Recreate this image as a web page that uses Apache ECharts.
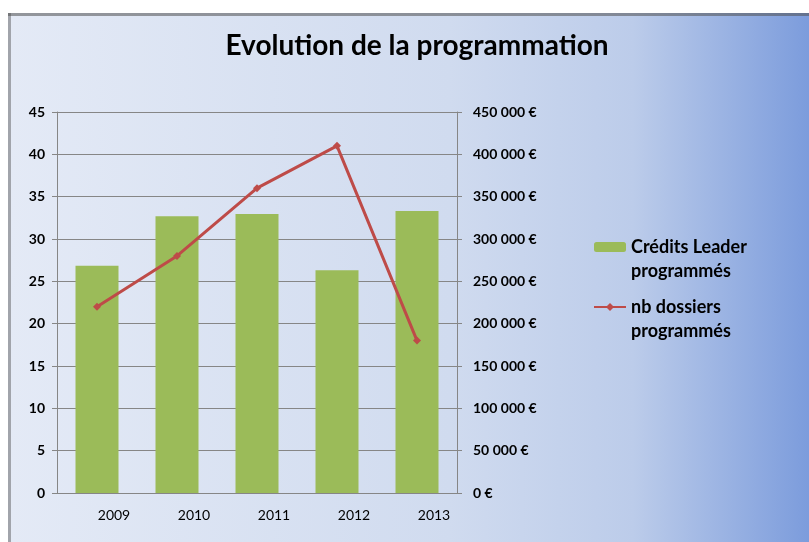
<!DOCTYPE html>
<html>
<head>
<meta charset="utf-8">
<script src="https://cdn.jsdelivr.net/npm/echarts@6/dist/echarts.min.js"></script>
<style>
  html, body { margin: 0; padding: 0; background: #fff; }
  #chart { width: 809px; height: 542px; }
</style>
</head>
<body>
<div id="chart"></div>
<script>
// données
var years = ['2009', '2010', '2011', '2012', '2013'];
var credits = [268500, 327000, 329500, 263000, 333000];
var dossiers = [22, 28, 36, 41, 18];

function euro(v) {
  return String(v).replace(/\B(?=(\d{3})+(?!\d))/g, ' ') + ' €';
}

var myChart = echarts.init(document.getElementById('chart'));

var option = {
  backgroundColor: '#fff',
  textStyle: { fontFamily: 'Lato' },
  graphic: [
    {
      type: 'rect', z: -10,
      shape: { x: 8, y: 13, width: 801, height: 529 },
      style: {
        fill: new echarts.graphic.LinearGradient(0, 0, 1, 0, [
          { offset: 0, color: '#E4EAF6' },
          { offset: 0.55, color: '#D0DBEF' },
          { offset: 0.78, color: '#BCCCEA' },
          { offset: 1, color: '#7C9CDC' }
        ])
      }
    },
    { type: 'rect', z: -9, shape: { x: 8, y: 13, width: 801, height: 3 }, style: { fill: 'rgba(80,80,80,0.55)' } },
    { type: 'rect', z: -9, shape: { x: 8, y: 13, width: 3, height: 529 }, style: { fill: 'rgba(80,80,80,0.45)' } }
  ],
  title: {
    text: 'Evolution de la programmation',
    left: 412, top: 27, textAlign: 'center',
    textStyle: { fontSize: 28, fontWeight: 'bold', color: '#000', fontFamily: 'Lato' }
  },
  legend: {
    orient: 'vertical',
    left: 593, top: 211,
    padding: 0,
    itemGap: -12,
    itemWidth: 32, itemHeight: 10,
    formatter: function (name) { return ' \n' + name; },
    textStyle: {
      fontSize: 18, fontWeight: 'bold', color: '#000', lineHeight: 24
    },
    data: ['Crédits Leader\nprogrammés', 'nb dossiers\nprogrammés']
  },
  grid: { left: 57, right: 352, top: 112, bottom: 49 },
  xAxis: {
    type: 'category',
    data: years,
    axisLine: { lineStyle: { color: '#868686' } },
    axisTick: { show: false },
    axisLabel: { color: '#000', fontSize: 14, margin: 15, padding: [0, 0, 0, 34] }
  },
  yAxis: [
    {
      type: 'value', min: 0, max: 45, interval: 5,
      axisLine: { show: true, lineStyle: { color: '#868686' } },
      axisTick: { show: true, length: 5, lineStyle: { color: '#868686' } },
      splitLine: { lineStyle: { color: '#868686' } },
      axisLabel: { color: '#000', fontSize: 14, fontWeight: 'bold', margin: 12 }
    },
    {
      type: 'value', min: 0, max: 450000, interval: 50000,
      axisLine: { show: true, lineStyle: { color: '#868686' } },
      axisTick: { show: true, length: 5, lineStyle: { color: '#868686' } },
      splitLine: { show: false },
      axisLabel: { color: '#000', fontSize: 14, fontWeight: 'bold', margin: 16, formatter: euro }
    }
  ],
  series: [
    {
      name: 'Crédits Leader\nprogrammés',
      type: 'bar',
      yAxisIndex: 1,
      data: credits,
      barWidth: 43,
      itemStyle: { color: '#9BBB59' }
    },
    {
      name: 'nb dossiers\nprogrammés',
      type: 'line',
      yAxisIndex: 0,
      data: dossiers,
      symbol: 'diamond',
      symbolSize: 8,
      lineStyle: { color: '#BE4B48', width: 3 },
      itemStyle: { color: '#BE4B48' }
    }
  ]
};

myChart.setOption(option);
</script>
</body>
</html>
